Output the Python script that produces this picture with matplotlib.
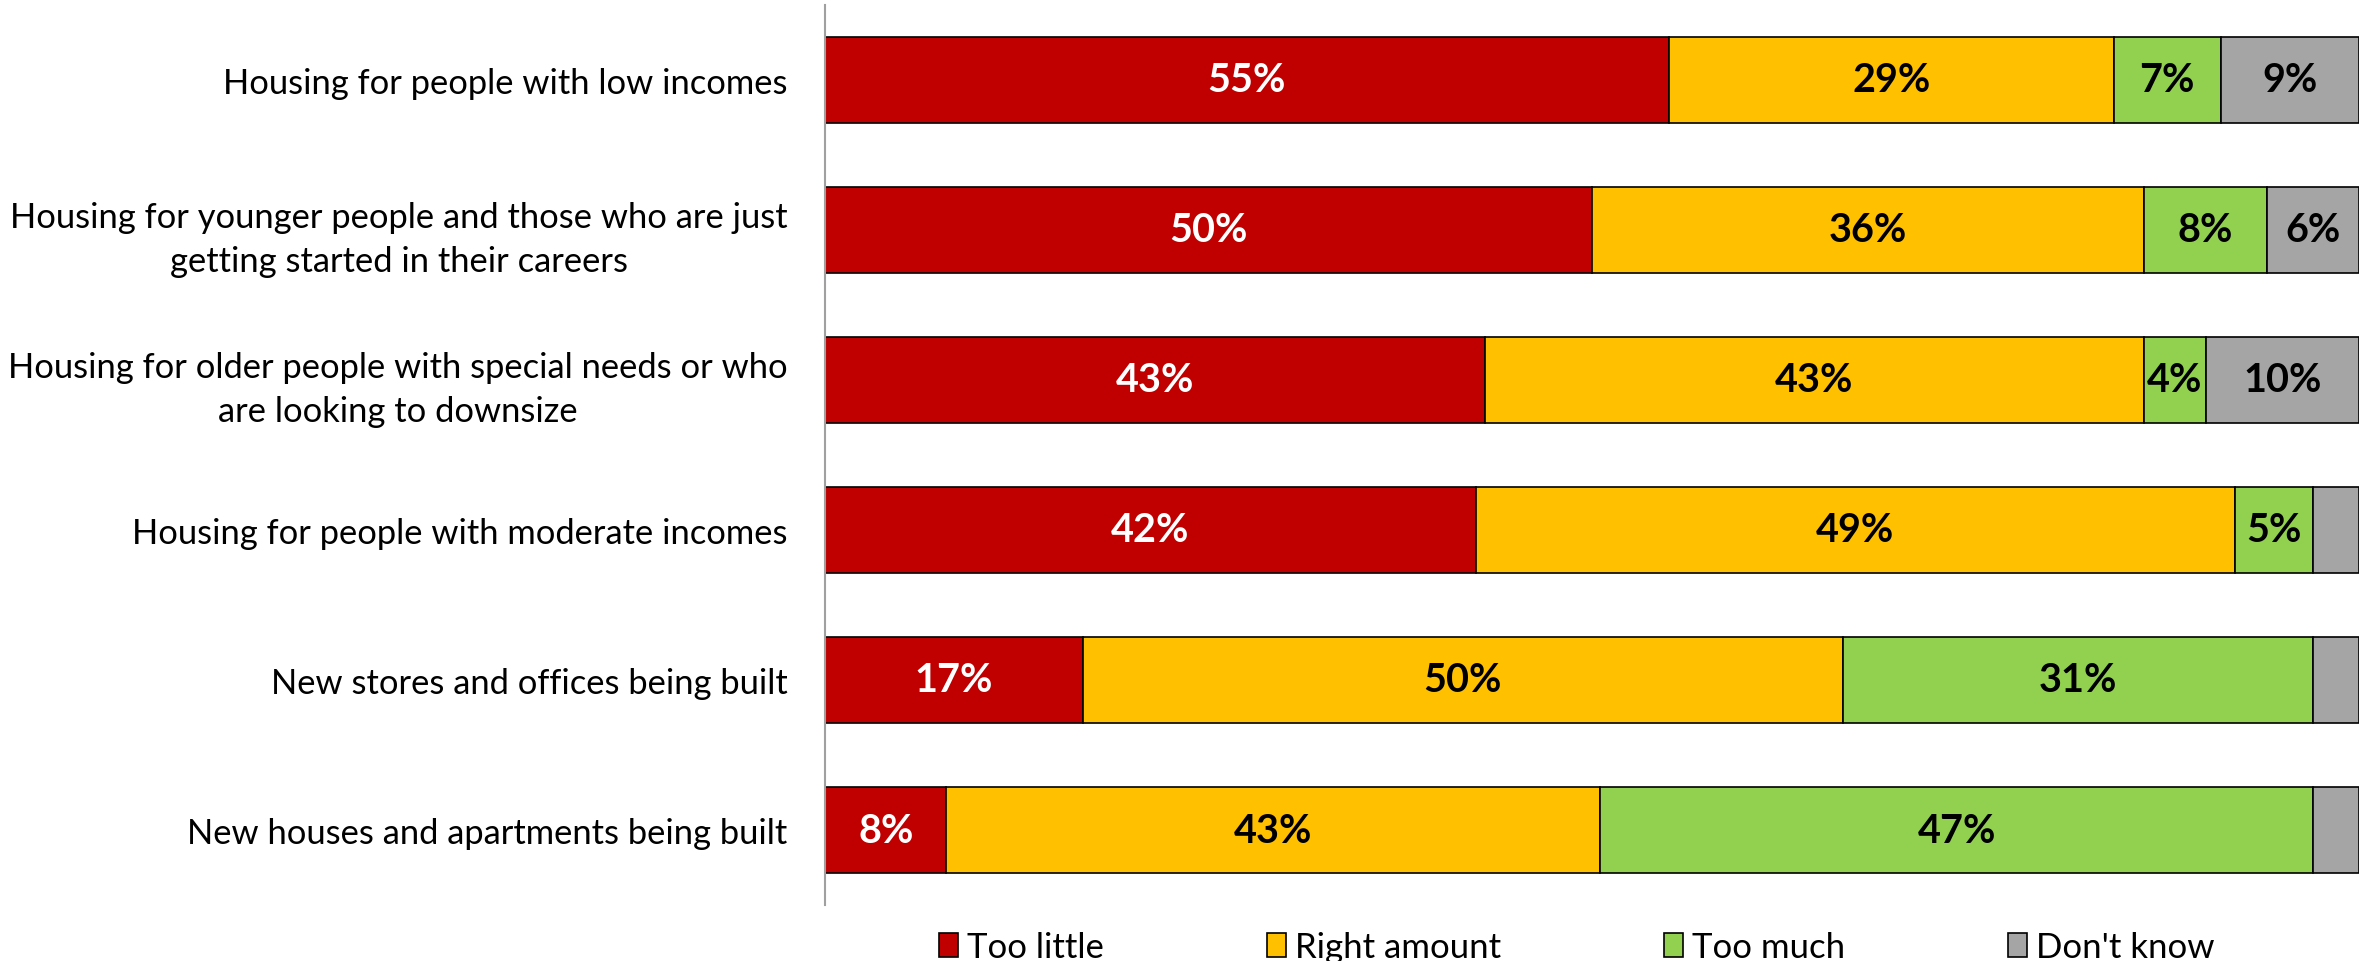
import numpy as np
import matplotlib.pyplot as plt
from matplotlib.patches import Patch

plt.rcParams['font.family'] = ['Lato', 'DejaVu Sans']

categories = [
    'Housing for people with low incomes',
    'Housing for younger people and those who are just\ngetting started in their careers',
    'Housing for older people with special needs or who\nare looking to downsize',
    'Housing for people with moderate incomes',
    'New stores and offices being built',
    'New houses and apartments being built',
]
series = ['Too little', 'Right amount', 'Too much', "Don't know"]
too_little = [55, 50, 43, 42, 17, 8]
right_amount = [29, 36, 43, 49, 50, 43]
too_much = [7, 8, 4, 5, 31, 47]
dont_know = [9, 6, 10, 3, 3, 3]

colors = ['#C00000', '#FFC000', '#92D050', '#A5A5A5']
text_colors = ['white', 'black', 'black', 'black']

values = np.array([too_little, right_amount, too_much, dont_know], dtype=float)
# 100% stacked: each row scaled to its own total
shares = values / values.sum(axis=0) * 100

fig = plt.figure(figsize=(23.74, 9.62), dpi=100)
ax = fig.add_axes([0.3475, 0.0582, 0.6462, 0.9356])

y = np.arange(len(categories))
left = np.zeros(len(categories))
for i, name in enumerate(series):
    bars = ax.barh(y, shares[i], left=left, height=0.575, color=colors[i],
                   edgecolor='black', linewidth=1.2, label=name)
    for j, b in enumerate(bars):
        if values[i, j] >= 4:
            ax.text(b.get_x() + b.get_width() / 2, b.get_y() + b.get_height() / 2,
                    f'{int(values[i, j])}%', ha='center', va='center',
                    fontsize=28.5, fontweight='bold', color=text_colors[i])
    left += shares[i]

ax.set_xlim(0, 100)
ax.set_ylim(len(categories) - 0.5, -0.5)
ax.set_yticks(y)
ax.set_yticklabels(categories, fontsize=24.8, multialignment='center', linespacing=1.45)
ax.tick_params(axis='y', length=0, pad=27)
ax.set_xticks([])
for side in ['top', 'right', 'bottom']:
    ax.spines[side].set_visible(False)
ax.spines['left'].set_color('#A0A0A0')
ax.spines['left'].set_linewidth(1.5)

handles = [Patch(facecolor=c, edgecolor='black', linewidth=1.2) for c in colors]
fig.legend(handles, series, loc='center', bbox_to_anchor=(1577 / 2374, 14 / 962),
           ncol=4, frameon=False, fontsize=25, handlelength=0.55, handleheight=0.7,
           handletextpad=0.25, columnspacing=4.7)

fig.savefig('out.png', dpi=100)
